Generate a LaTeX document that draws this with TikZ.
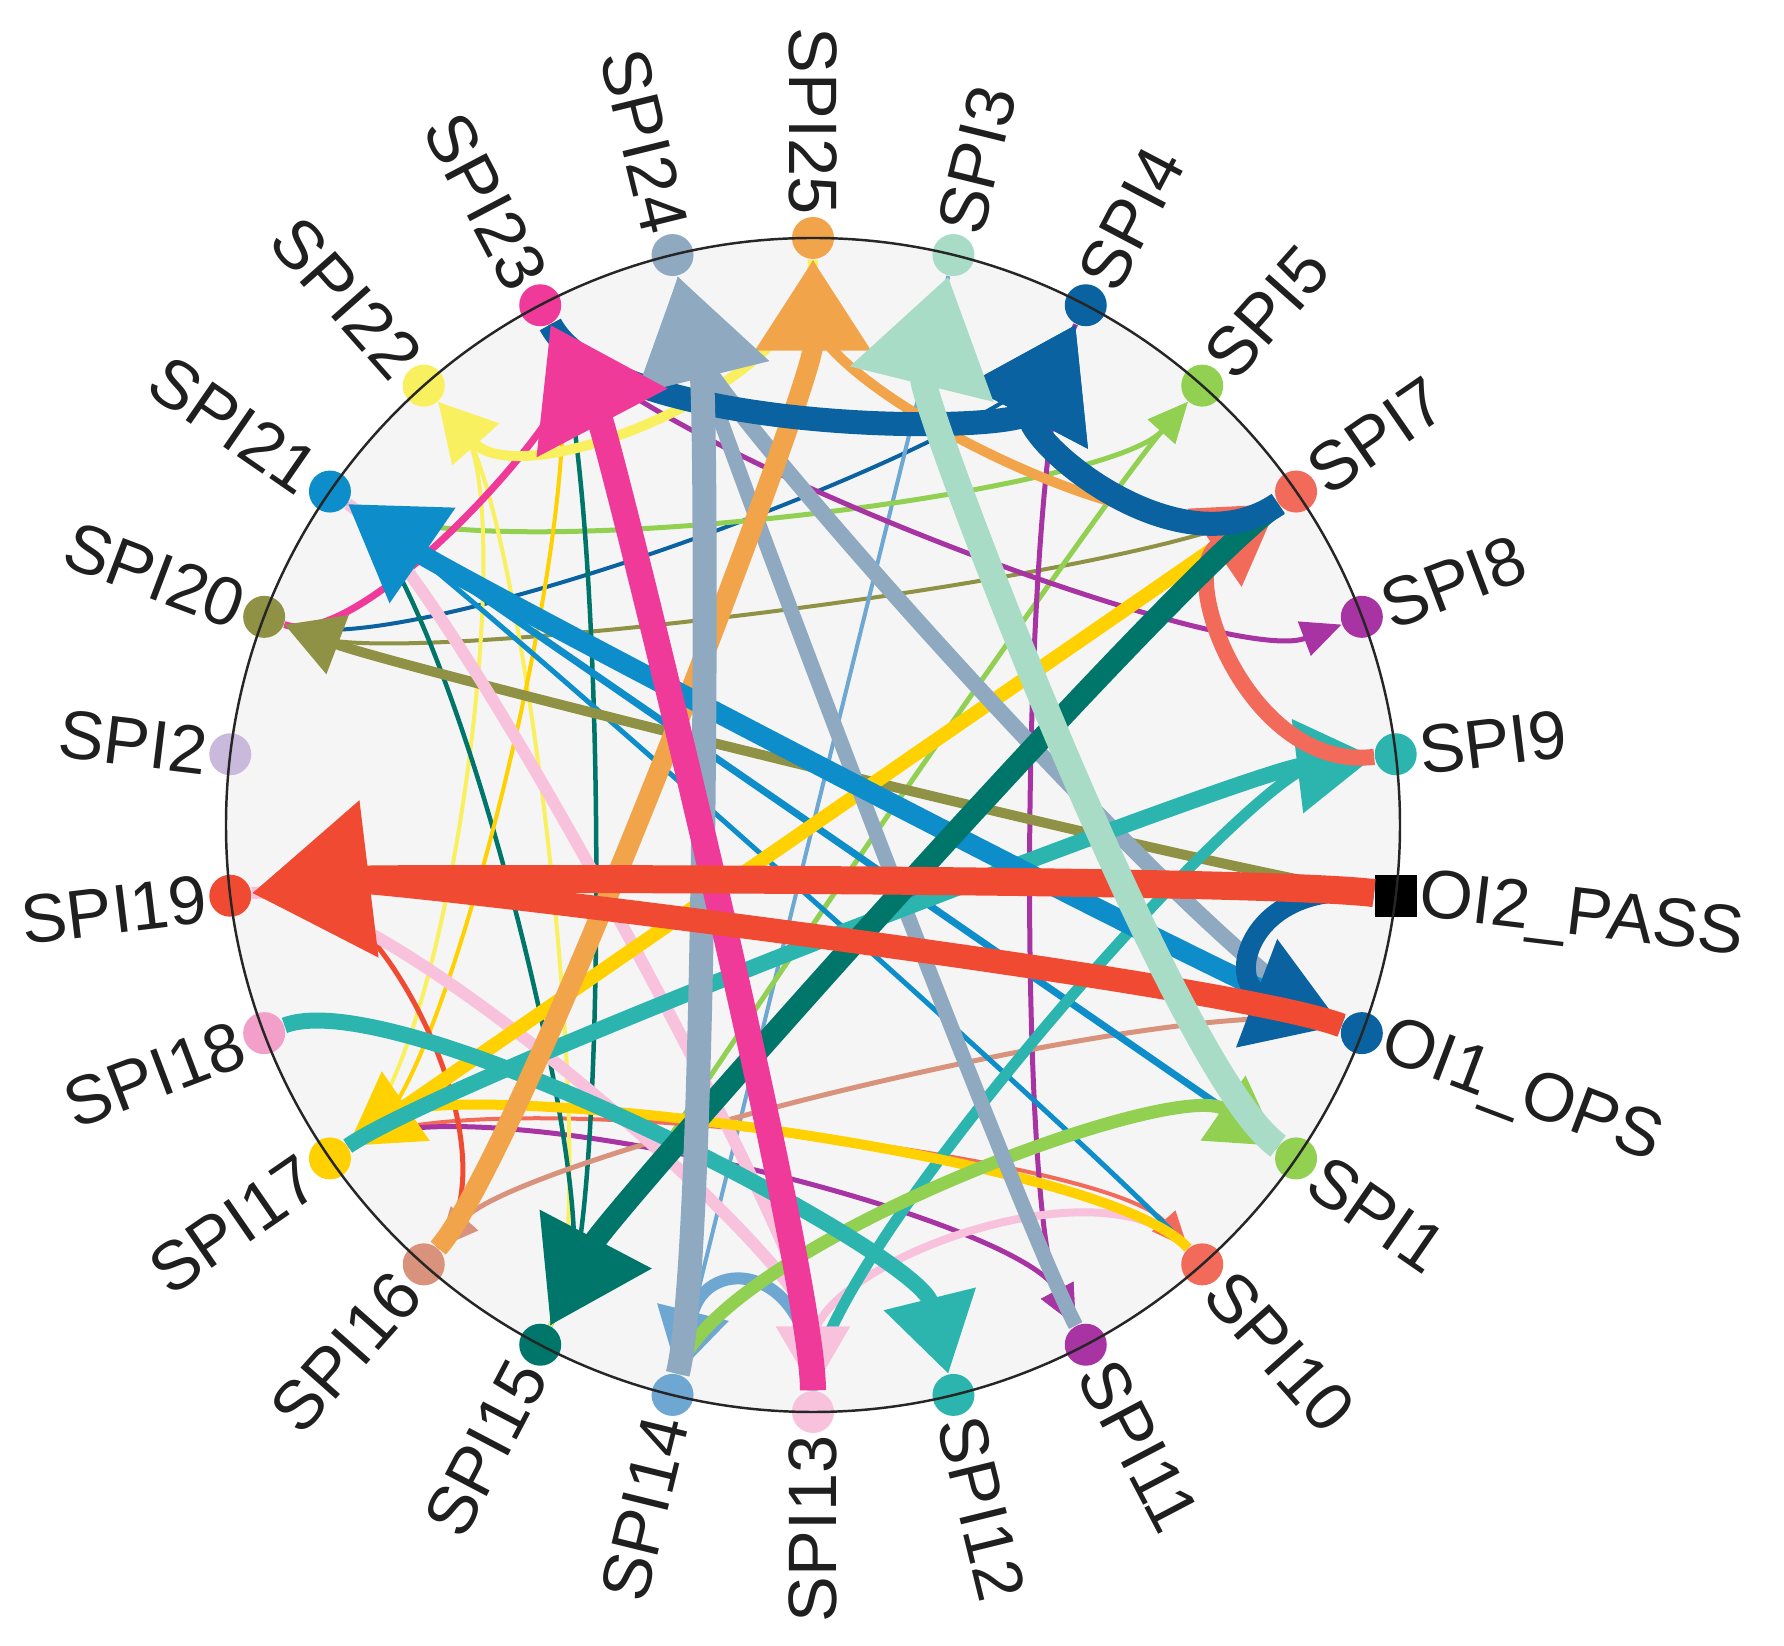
\documentclass[tikz,border=0pt]{standalone}
\usepackage{fontspec}
\setmainfont{Liberation Sans}
\usetikzlibrary{calc,arrows.meta}

% Node colours
\definecolor{c25}{HTML}{F2A44A}
\definecolor{c3}{HTML}{A9DCC7}
\definecolor{c4}{HTML}{0A62A1}
\definecolor{c5}{HTML}{92D052}
\definecolor{c7}{HTML}{F26B5A}
\definecolor{c8}{HTML}{A833A3}
\definecolor{c9}{HTML}{2BB5AE}
\definecolor{c1}{HTML}{92D052}
\definecolor{c10}{HTML}{F26B5A}
\definecolor{c11}{HTML}{A833A3}
\definecolor{c12}{HTML}{2BB5AE}
\definecolor{c13}{HTML}{F8C1DC}
\definecolor{c14}{HTML}{6EA7D2}
\definecolor{c15}{HTML}{00766A}
\definecolor{c16}{HTML}{D9937C}
\definecolor{c17}{HTML}{FFD100}
\definecolor{c18}{HTML}{F2A0C9}
\definecolor{c19}{HTML}{F04B32}
\definecolor{c2}{HTML}{C9B9DA}
\definecolor{c20}{HTML}{8F9244}
\definecolor{c21}{HTML}{0E8DCB}
\definecolor{c22}{HTML}{F8F05E}
\definecolor{c23}{HTML}{F03A9A}
\definecolor{c24}{HTML}{8FA9C1}
\definecolor{disc}{HTML}{F5F5F5}

\begin{document}
\begin{tikzpicture}[
	spi/.style={circle, inner sep=0pt, minimum size=0.42cm},
	lbl/.style={inner sep=0pt, text=black!88, font=\fontsize{19.5}{20}\selectfont},
	arc/.style={-{Triangle[length=6.5pt 3.4, width=3pt 5]}},
]
	\useasboundingbox (-8.13,-8.21) rectangle (9.71,8.25);
	
	% Disc
	\fill[disc] (0,0) circle (5.87);
	
	% Vertices on the rim
	\node[spi, fill=c25] (s25) at (90:5.87) {};
	\node[spi, fill=c3]  (s3)  at (76.154:5.87) {};
	\node[spi, fill=c4]  (s4)  at (62.308:5.87) {};
	\node[spi, fill=c5]  (s5)  at (48.462:5.87) {};
	\node[spi, fill=c7]  (s7)  at (34.615:5.87) {};
	\node[spi, fill=c8]  (s8)  at (20.769:5.87) {};
	\node[spi, fill=c9]  (s9)  at (6.923:5.87) {};
	\node[spi, fill=black, rectangle] (oi2) at (-6.923:5.87) {};
	\node[spi, fill=c4]  (oi1) at (-20.769:5.87) {};
	\node[spi, fill=c1]  (s1)  at (-34.615:5.87) {};
	\node[spi, fill=c10] (s10) at (-48.462:5.87) {};
	\node[spi, fill=c11] (s11) at (-62.308:5.87) {};
	\node[spi, fill=c12] (s12) at (-76.154:5.87) {};
	\node[spi, fill=c13] (s13) at (-90:5.87) {};
	\node[spi, fill=c14] (s14) at (-103.846:5.87) {};
	\node[spi, fill=c15] (s15) at (-117.692:5.87) {};
	\node[spi, fill=c16] (s16) at (-131.538:5.87) {};
	\node[spi, fill=c17] (s17) at (-145.385:5.87) {};
	\node[spi, fill=c18] (s18) at (-159.231:5.87) {};
	\node[spi, fill=c19] (s19) at (-173.077:5.87) {};
	\node[spi, fill=c2]  (s2)  at (173.077:5.87) {};
	\node[spi, fill=c20] (s20) at (159.231:5.87) {};
	\node[spi, fill=c21] (s21) at (145.385:5.87) {};
	\node[spi, fill=c22] (s22) at (131.538:5.87) {};
	\node[spi, fill=c23] (s23) at (117.692:5.87) {};
	\node[spi, fill=c24] (s24) at (103.846:5.87) {};
	
	% Labels, right half
	\node[lbl, rotate=76.154,  anchor=west] at (76.154:6.1)  {SPI3};
	\node[lbl, rotate=62.308,  anchor=west] at (62.308:6.1)  {SPI4};
	\node[lbl, rotate=48.462,  anchor=west] at (48.462:6.1)  {SPI5};
	\node[lbl, rotate=34.615,  anchor=west] at (34.615:6.1)  {SPI7};
	\node[lbl, rotate=20.769,  anchor=west] at (20.769:6.1)  {SPI8};
	\node[lbl, rotate=6.923,   anchor=west] at (6.923:6.1)   {SPI9};
	\node[lbl, rotate=-6.923,  anchor=west] at (-6.923:6.1)  {OI2\_PASS};
	\node[lbl, rotate=-20.769, anchor=west] at (-20.769:6.1) {OI1\_OPS};
	\node[lbl, rotate=-34.615, anchor=west] at (-34.615:6.1) {SPI1};
	\node[lbl, rotate=-48.462, anchor=west] at (-48.462:6.1) {SPI10};
	\node[lbl, rotate=-62.308, anchor=west] at (-62.308:6.1) {SPI11};
	\node[lbl, rotate=-76.154, anchor=west] at (-76.154:6.1) {SPI12};
	
	% Labels, left half
	\node[lbl, rotate=-90,     anchor=east] at (90:6.1)       {SPI25};
	\node[lbl, rotate=90,      anchor=east] at (-90:6.1)      {SPI13};
	\node[lbl, rotate=76.154,  anchor=east] at (-103.846:6.1) {SPI14};
	\node[lbl, rotate=62.308,  anchor=east] at (-117.692:6.1) {SPI15};
	\node[lbl, rotate=48.462,  anchor=east] at (-131.538:6.1) {SPI16};
	\node[lbl, rotate=34.615,  anchor=east] at (-145.385:6.1) {SPI17};
	\node[lbl, rotate=20.769,  anchor=east] at (-159.231:6.1) {SPI18};
	\node[lbl, rotate=6.923,   anchor=east] at (-173.077:6.1) {SPI19};
	\node[lbl, rotate=-6.923,  anchor=east] at (173.077:6.1)  {SPI2};
	\node[lbl, rotate=-20.769, anchor=east] at (159.231:6.1)  {SPI20};
	\node[lbl, rotate=-34.615, anchor=east] at (145.385:6.1)  {SPI21};
	\node[lbl, rotate=-48.462, anchor=east] at (131.538:6.1)  {SPI22};
	\node[lbl, rotate=-62.308, anchor=east] at (117.692:6.1)  {SPI23};
	\node[lbl, rotate=-76.154, anchor=east] at (103.846:6.1)  {SPI24};
	
	% Thin edges (control points pulled in along the radius)
	\draw[arc, c20, line width=0.4mm]  (s7)  .. controls ($.75*(s7)$)  and ($.75*(s20)$) .. (s20);
	\draw[arc, c4,  line width=0.4mm]  (s20) .. controls ($.75*(s20)$) and ($.75*(s4)$)  .. (s4);
	\draw[arc, c14, line width=0.4mm]  (s3)  .. controls ($.75*(s3)$)  and ($.75*(s14)$) .. (s14);
	\draw[arc, c5,  line width=0.5mm]  (s15) .. controls ($.75*(s15)$) and ($.75*(s5)$)  .. (s5);
	\draw[arc, c5,  line width=0.5mm]  (s21) .. controls ($.75*(s21)$) and ($.75*(s5)$)  .. (s5);
	\draw[arc, c10, line width=0.4mm]  (s17) .. controls ($.75*(s17)$) and ($.75*(s10)$) .. (s10);
	\draw[arc, c8,  line width=0.5mm]  (s23) .. controls ($.75*(s23)$) and ($.75*(s8)$)  .. (s8);
	\draw[arc, c11, line width=0.5mm]  (s4)  .. controls ($.75*(s4)$)  and ($.75*(s11)$) .. (s11);
	\draw[arc, c11, line width=0.5mm]  (s17) .. controls ($.75*(s17)$) and ($.75*(s11)$) .. (s11);
	\draw[arc, c22, line width=0.4mm]  (s15) .. controls ($.75*(s15)$) and ($.75*(s22)$) .. (s22);
	\draw[arc, c22, line width=0.4mm]  (s17) .. controls ($.75*(s17)$) and ($.75*(s22)$) .. (s22);
	\draw[arc, c15, line width=0.45mm] (s23) .. controls ($.75*(s23)$) and ($.75*(s15)$) .. (s15);
	\draw[arc, c15, line width=0.45mm] (s21) .. controls ($.75*(s21)$) and ($.75*(s15)$) .. (s15);
	\draw[arc, c17, line width=0.4mm]  (s23) .. controls ($.75*(s23)$) and ($.75*(s17)$) .. (s17);
	\draw[arc, c16, line width=0.5mm]  (oi1) .. controls ($.75*(oi1)$) and ($.75*(s16)$) .. (s16);
	\draw[arc, c19, line width=0.5mm]  (s16) .. controls ($.75*(s16)$) and ($.75*(s19)$) .. (s19);
	\draw[arc, c21, line width=0.5mm]  (s10) .. controls ($.75*(s10)$) and ($.75*(s21)$) .. (s21);
	\draw[arc, c21, line width=0.7mm]  (s1)  .. controls ($.75*(s1)$)  and ($.75*(s21)$) .. (s21);
	\draw[arc, c23, line width=0.7mm]  (s20) .. controls ($.82*(s20)$) and ($.82*(s23)$) .. (s23);
	\draw[arc, c13, line width=0.8mm]  (s10) .. controls ($.75*(s10)$) and ($.75*(s13)$) .. (s13);
	\draw[arc, c22, line width=1mm]    (s25) .. controls ($.75*(s25)$) and ($.75*(s22)$) .. (s22);
	
	% Medium edges
	\draw[arc, c20, line width=1mm]    (oi2) .. controls ($.75*(oi2)$) and ($.75*(s20)$) .. (s20);
	\draw[arc, c25, line width=1mm]    (s7)  .. controls ($.75*(s7)$)  and ($.75*(s25)$) .. (s25);
	\draw[arc, c9,  line width=1.1mm]  (s13) .. controls ($.75*(s13)$) and ($.75*(s9)$)  .. (s9);
	\draw[arc, c13, line width=1.2mm]  (s19) .. controls ($.75*(s19)$) and ($.75*(s13)$) .. (s13);
	\draw[arc, c13, line width=1.2mm]  (s21) .. controls ($.75*(s21)$) and ($.75*(s13)$) .. (s13);
	\draw[arc, c14, line width=1.2mm]  (s13) .. controls ($.75*(s13)$) and ($.75*(s14)$) .. (s14);
	\draw[arc, c17, line width=1mm]    (s10) .. controls ($.75*(s10)$) and ($.75*(s17)$) .. (s17);
	\draw[arc, c1,  line width=1.3mm]  (s14) .. controls ($.75*(s14)$) and ($.75*(s1)$)  .. (s1);
	\draw[arc, c17, line width=1.4mm]  (s7)  .. controls ($.75*(s7)$)  and ($.75*(s17)$) .. (s17);
	\draw[arc, c24, line width=1.5mm]  (s11) .. controls ($.75*(s11)$) and ($.75*(s24)$) .. (s24);
	\draw[arc, c24, line width=1.6mm]  (oi1) .. controls ($.75*(oi1)$) and ($.75*(s24)$) .. (s24);
	\draw[arc, c9,  line width=1.6mm]  (s17) .. controls ($.75*(s17)$) and ($.75*(s9)$)  .. (s9);
	\draw[arc, c12, line width=1.6mm]  (s18) .. controls ($.75*(s18)$) and ($.75*(s12)$) .. (s12);
	\draw[arc, c7,  line width=1.6mm]  (s9)  .. controls ($.75*(s9)$)  and ($.75*(s7)$)  .. (s7);
	
	% Thick edges
	\draw[arc, c25, line width=2mm]    (s16) .. controls ($.75*(s16)$) and ($.75*(s25)$) .. (s25);
	\draw[arc, c21, line width=2mm]    (oi1) .. controls ($.75*(oi1)$) and ($.75*(s21)$) .. (s21);
	\draw[arc, c15, line width=2.2mm]  (s7)  .. controls ($.75*(s7)$)  and ($.75*(s15)$) .. (s15);
	\draw[arc, c4,  line width=2.4mm]  (s23) .. controls ($.75*(s23)$) and ($.75*(s4)$)  .. (s4);
	\draw[arc, c4,  line width=2.4mm]  (s7)  .. controls ($.75*(s7)$)  and ($.75*(s4)$)  .. (s4);
	\draw[arc, c4,  line width=2mm]    (oi2) .. controls ($.75*(oi2)$) and ($.75*(oi1)$) .. (oi1);
	\draw[arc, c24, line width=2.4mm]  (s14) .. controls ($.75*(s14)$) and ($.75*(s24)$) .. (s24);
	\draw[arc, c23, line width=2.6mm]  (s13) .. controls ($.75*(s13)$) and ($.75*(s23)$) .. (s23);
	\draw[arc, c19, line width=2.4mm]  (oi1) .. controls ($.75*(oi1)$) and ($.75*(s19)$) .. (s19);
	\draw[arc, c19, line width=2.8mm]  (oi2) .. controls ($.75*(oi2)$) and ($.75*(s19)$) .. (s19);
	\draw[arc, c3,  line width=2.6mm]  (s1)  .. controls ($.75*(s1)$)  and ($.75*(s3)$)  .. (s3);
	
	% Rim
	\draw[black!85, line width=0.7pt] (0,0) circle (5.87);
	
\end{tikzpicture}
\end{document}
